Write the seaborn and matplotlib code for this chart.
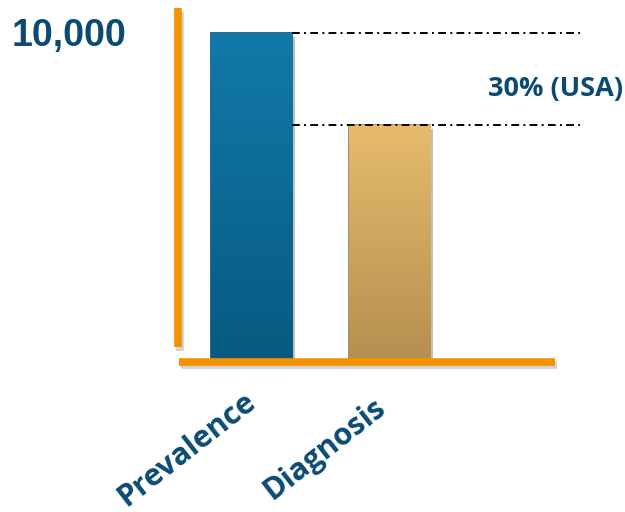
import matplotlib
matplotlib.use("Agg")
import matplotlib.pyplot as plt
import matplotlib.patheffects as pe
from matplotlib.colors import LinearSegmentedColormap
from matplotlib.transforms import ScaledTranslation
import numpy as np
import pandas as pd
import seaborn as sns

# chart data
categories = ["Prevalence", "Diagnosis"]
values = [10000, 7200]
top_label = "10,000"
gap_label = "30% (USA)"

# colours (top / bottom of each bar gradient)
bar_top_colors = ["#1279aa", "#e6bb6c"]
bar_bottom_colors = ["#065a80", "#b58f4f"]
bar_edge_colors = ["#054a6a", "#9a7a42"]
text_color = "#0b4b73"
axis_color = "#f39200"

sns.set_theme(style="white")
plt.rcParams["font.family"] = ["Open Sans", "DejaVu Sans"]

fig = plt.figure(figsize=(6.25, 5.12), dpi=100)
ax = fig.add_axes([0.2848, 0.293, 0.6432, 0.691])

df = pd.DataFrame({"category": categories, "value": values})
sns.barplot(data=df, x="category", y="value", hue="category",
            palette=bar_top_colors, width=0.587, legend=False, ax=ax)

# gradient fill + soft shadow on each bar
grad = np.linspace(0, 1, 256).reshape(-1, 1)
for patch, c_top, c_bot, c_edge in zip(ax.patches, bar_top_colors,
                                       bar_bottom_colors, bar_edge_colors):
    x0, y0 = patch.get_x(), patch.get_y()
    w, h = patch.get_width(), patch.get_height()
    cmap = LinearSegmentedColormap.from_list("bar", [c_bot, c_top])
    im = ax.imshow(grad, extent=[x0, x0 + w, y0, y0 + h], origin="lower",
                   cmap=cmap, aspect="auto", zorder=patch.get_zorder() + 0.1)
    im.set_clip_path(patch)
    patch.set_edgecolor(c_edge)
    patch.set_linewidth(1.2)
    patch.set_path_effects([pe.withSimplePatchShadow(offset=(2, -3),
                                                     shadow_rgbFace="black",
                                                     alpha=0.25)])

ax.set_xlim(-0.533, 2.38)
ax.set_ylim(0, 10760)

# dash-dot reference lines from the first bar's right edge
first = ax.patches[0]
x_start = first.get_x() + first.get_width()
ax.hlines(values, x_start, ax.get_xlim()[1], colors="black", lw=1.4,
          linestyles=[(0, (4, 2.2, 1, 2.2))], zorder=5, clip_on=False)

# orange axis lines
shadow = [pe.SimpleLineShadow(offset=(1.5, -2.5), alpha=0.2), pe.Normal()]
ax.axvline(ax.get_xlim()[0], ymin=0.042, ymax=1, color=axis_color, lw=5.5,
           solid_capstyle="butt", clip_on=False, path_effects=shadow)
ax.axhline(0, xmin=0.003, xmax=0.938, color=axis_color, lw=5.5,
           solid_capstyle="butt", clip_on=False, zorder=4, path_effects=shadow)

for s in ax.spines.values():
    s.set_visible(False)
ax.set_yticks([])
ax.set_xlabel("")
ax.set_ylabel("")
ax.tick_params(axis="x", length=0, pad=63)
ax.set_xticks(range(len(categories)))
ax.set_xticklabels(categories, rotation=38, ha="center", va="center",
                   rotation_mode="anchor", fontsize=22, fontweight="bold",
                   color=text_color)
# labels sit down-left of their bars
shift = ScaledTranslation(-0.65, 0, fig.dpi_scale_trans)
for lbl in ax.get_xticklabels():
    lbl.set_transform(lbl.get_transform() + shift)

fig.text(0.019, 0.93, top_label, ha="left", va="center", fontsize=27,
         fontweight="bold", color=text_color,
         family=["Liberation Sans", "DejaVu Sans"])
fig.text(0.997, 0.826, gap_label, ha="right", va="center", fontsize=19.5,
         fontweight="bold", color=text_color)

fig.savefig("out.png", dpi=100, facecolor="white")
